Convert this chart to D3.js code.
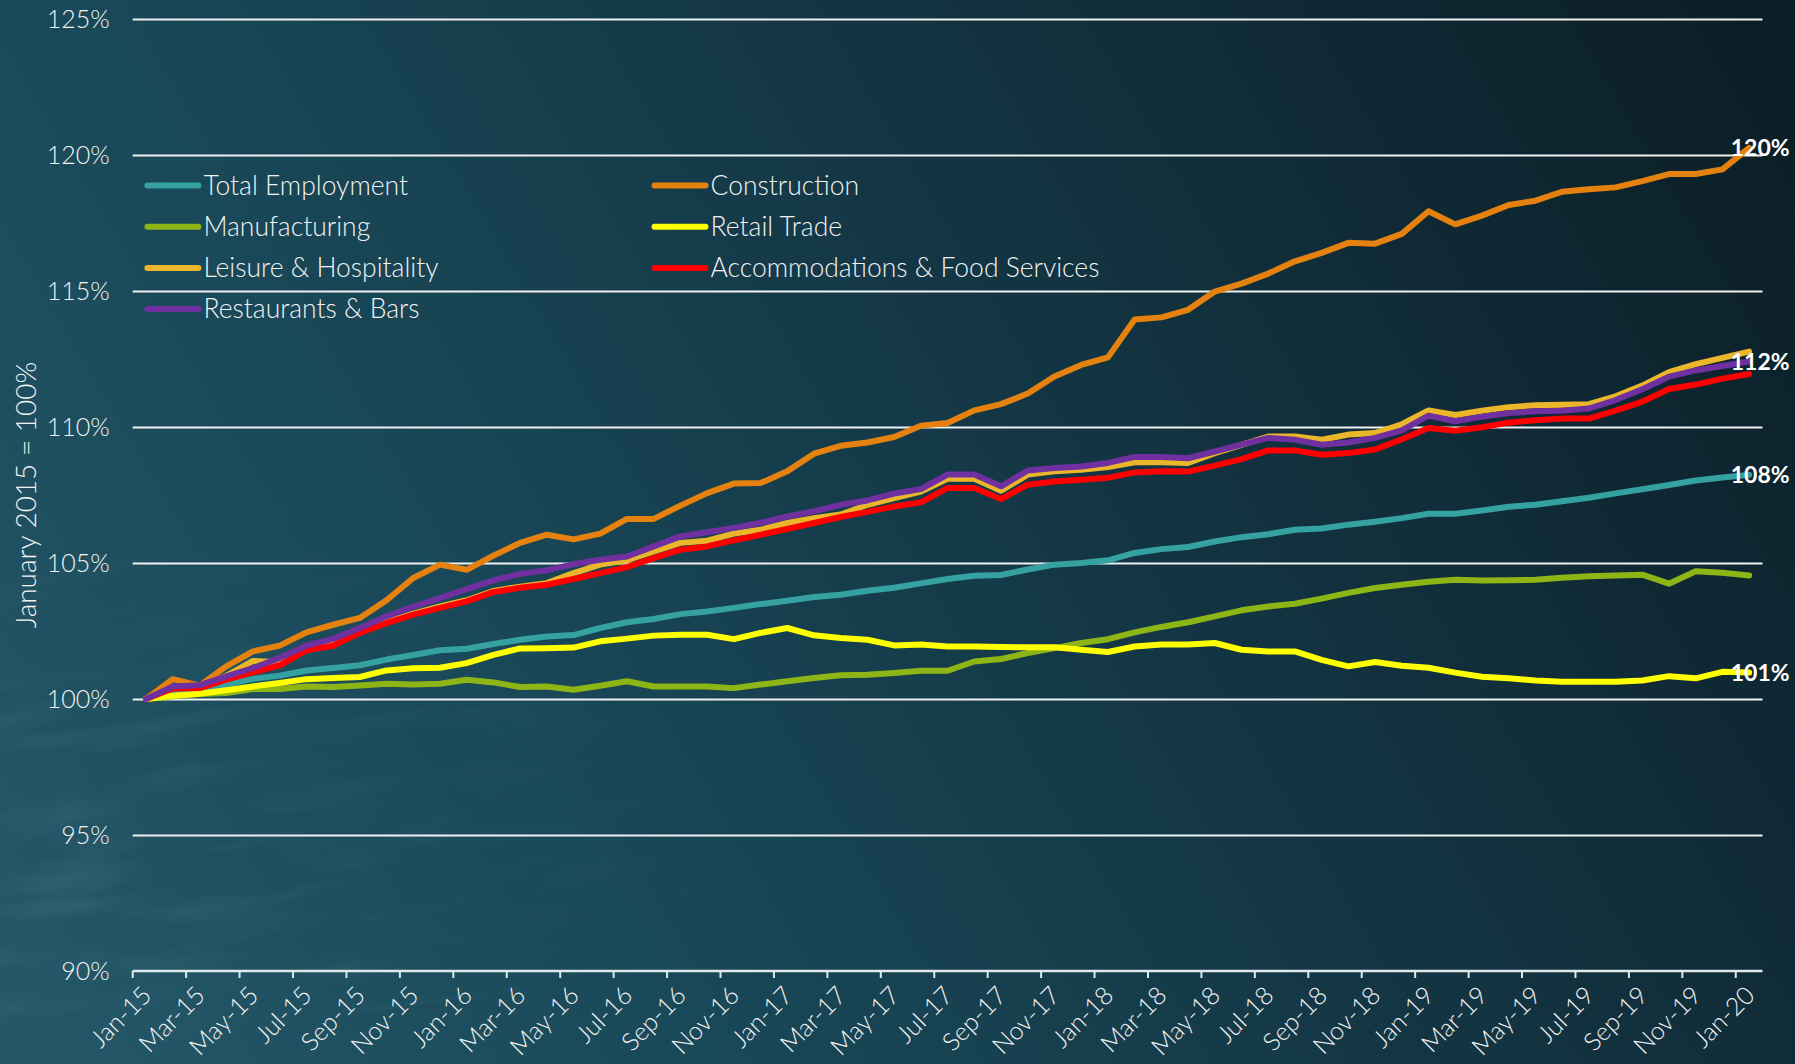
<!DOCTYPE html>
<html>
<head>
<meta charset="utf-8">
<script src="https://cdn.jsdelivr.net/npm/d3@7"></script>
<style>
  html, body { margin: 0; padding: 0; background: #12313d; overflow: hidden; }
  svg { display: block; }
  text { font-family: "Century Gothic", "URW Gothic", Lato, sans-serif; }
</style>
</head>
<body>
<script>
// monthly index, January 2015 = 100%
var months = d3.timeMonth.range(new Date(2015, 0, 1), new Date(2020, 1, 1));
var yTicks = [90, 95, 100, 105, 110, 115, 120, 125];

var totalEmployment = [100.00, 100.18, 100.34, 100.53, 100.74, 100.86, 101.05, 101.14, 101.24, 101.45, 101.62, 101.79,
  101.85, 102.02, 102.18, 102.30, 102.35, 102.61, 102.82, 102.94, 103.12, 103.22, 103.35, 103.49,
  103.61, 103.75, 103.83, 103.98, 104.09, 104.25, 104.41, 104.53, 104.56, 104.76, 104.94, 105.00,
  105.10, 105.37, 105.51, 105.59, 105.79, 105.95, 106.06, 106.22, 106.27, 106.41, 106.52, 106.65,
  106.81, 106.81, 106.93, 107.07, 107.14, 107.27, 107.40, 107.56, 107.71, 107.87, 108.03, 108.14, 108.24];
var construction = [100.00, 100.73, 100.49, 101.20, 101.75, 101.96, 102.45, 102.73, 102.98, 103.63, 104.45, 104.94,
  104.75, 105.27, 105.74, 106.04, 105.87, 106.08, 106.62, 106.62, 107.11, 107.57, 107.92, 107.94,
  108.37, 109.02, 109.31, 109.43, 109.63, 110.05, 110.15, 110.61, 110.84, 111.23, 111.86, 112.28,
  112.56, 113.95, 114.03, 114.31, 114.98, 115.27, 115.64, 116.09, 116.40, 116.77, 116.74, 117.10,
  117.93, 117.45, 117.77, 118.16, 118.32, 118.65, 118.74, 118.81, 119.04, 119.30, 119.30, 119.47, 120.26];
var manufacturing = [100.00, 100.10, 100.18, 100.22, 100.37, 100.37, 100.46, 100.44, 100.50, 100.56, 100.53, 100.56,
  100.71, 100.61, 100.44, 100.46, 100.34, 100.49, 100.65, 100.46, 100.46, 100.46, 100.40, 100.53,
  100.65, 100.77, 100.87, 100.89, 100.96, 101.04, 101.04, 101.38, 101.47, 101.69, 101.87, 102.06,
  102.20, 102.45, 102.65, 102.82, 103.04, 103.26, 103.40, 103.50, 103.69, 103.90, 104.08, 104.20,
  104.31, 104.38, 104.36, 104.37, 104.38, 104.46, 104.51, 104.54, 104.57, 104.24, 104.70, 104.64, 104.54];
var retailTrade = [100.00, 100.12, 100.19, 100.32, 100.46, 100.59, 100.73, 100.77, 100.81, 101.05, 101.13, 101.15,
  101.32, 101.62, 101.86, 101.87, 101.89, 102.12, 102.22, 102.33, 102.36, 102.36, 102.20, 102.43,
  102.61, 102.34, 102.24, 102.18, 101.97, 102.00, 101.93, 101.93, 101.91, 101.90, 101.90, 101.81,
  101.73, 101.93, 102.00, 102.00, 102.06, 101.81, 101.75, 101.75, 101.44, 101.20, 101.36, 101.22,
  101.15, 100.97, 100.82, 100.76, 100.68, 100.63, 100.63, 100.63, 100.68, 100.84, 100.76, 101.00, 100.97];
var leisure = [100.00, 100.42, 100.45, 100.85, 101.40, 101.35, 101.85, 102.00, 102.45, 102.82, 103.14, 103.40,
  103.63, 103.97, 104.13, 104.26, 104.63, 104.94, 105.10, 105.43, 105.74, 105.82, 106.08, 106.22,
  106.47, 106.65, 106.78, 107.14, 107.39, 107.63, 108.10, 108.10, 107.66, 108.25, 108.37, 108.43,
  108.53, 108.70, 108.70, 108.68, 109.04, 109.34, 109.65, 109.65, 109.53, 109.72, 109.78, 110.10,
  110.61, 110.44, 110.60, 110.73, 110.80, 110.82, 110.84, 111.13, 111.52, 112.02, 112.31, 112.54, 112.77];
var accommodations = [100.00, 100.39, 100.40, 100.71, 100.98, 101.24, 101.79, 101.96, 102.43, 102.79, 103.10, 103.35,
  103.59, 103.93, 104.09, 104.20, 104.41, 104.63, 104.85, 105.18, 105.49, 105.61, 105.83, 106.04,
  106.25, 106.47, 106.69, 106.88, 107.08, 107.23, 107.76, 107.76, 107.35, 107.88, 108.00, 108.06,
  108.13, 108.33, 108.37, 108.36, 108.58, 108.82, 109.14, 109.14, 108.98, 109.04, 109.17, 109.55,
  109.96, 109.86, 109.99, 110.16, 110.25, 110.31, 110.31, 110.60, 110.93, 111.40, 111.56, 111.78, 111.95];
var restaurants = [100.00, 100.46, 100.51, 100.83, 101.14, 101.51, 101.96, 102.21, 102.61, 103.04, 103.40, 103.71,
  104.04, 104.36, 104.60, 104.73, 104.96, 105.12, 105.24, 105.61, 105.98, 106.13, 106.29, 106.47,
  106.71, 106.90, 107.14, 107.30, 107.55, 107.72, 108.25, 108.25, 107.82, 108.40, 108.49, 108.55,
  108.68, 108.90, 108.90, 108.85, 109.10, 109.35, 109.60, 109.53, 109.35, 109.43, 109.60, 109.88,
  110.42, 110.21, 110.38, 110.51, 110.58, 110.60, 110.68, 110.99, 111.39, 111.85, 112.08, 112.24, 112.41];

var seriesNames = ["Total Employment", "Construction", "Manufacturing", "Retail Trade",
  "Leisure & Hospitality", "Accommodations & Food Services", "Restaurants & Bars"];
var seriesValues = [totalEmployment, construction, manufacturing, retailTrade, leisure, accommodations, restaurants];
var seriesColors = ["#35a2a1", "#e5820f", "#8db515", "#ffff00", "#ebb62a", "#ff0000", "#7030a0"];
// series that get a value label at the last point
var endLabels = ["Construction", "Restaurants & Bars", "Total Employment", "Retail Trade"];

var W = 1795, H = 1064;
var plotLeft = 132.7, plotRight = 1762.5, plotTop = 19, plotBottom = 971;

var svg = d3.select("body").append("svg").attr("width", W).attr("height", H);
var defs = svg.append("defs");

var bg = defs.append("linearGradient").attr("id", "bg")
  .attr("gradientUnits", "userSpaceOnUse")
  .attr("x1", 0).attr("y1", H).attr("x2", W).attr("y2", 0);
bg.append("stop").attr("offset", 0).attr("stop-color", "#245869");
bg.append("stop").attr("offset", 0.3).attr("stop-color", "#194858");
bg.append("stop").attr("offset", 0.6).attr("stop-color", "#133543");
bg.append("stop").attr("offset", 1).attr("stop-color", "#0b1d25");

var glow = defs.append("radialGradient").attr("id", "glow")
  .attr("cx", 0.05).attr("cy", 0.85).attr("r", 0.4);
glow.append("stop").attr("offset", 0).attr("stop-color", "#ffffff").attr("stop-opacity", 1);
glow.append("stop").attr("offset", 1).attr("stop-color", "#ffffff").attr("stop-opacity", 0);

var noise = defs.append("filter").attr("id", "water").attr("x", 0).attr("y", 0).attr("width", 1).attr("height", 1);
noise.append("feTurbulence").attr("type", "fractalNoise").attr("baseFrequency", "0.006 0.035")
  .attr("numOctaves", 3).attr("seed", 4);
noise.append("feColorMatrix").attr("type", "matrix")
  .attr("values", "0 0 0 0 0.45  0 0 0 0 0.65  0 0 0 0 0.72  0 0 0 1 -0.45");
var mask = defs.append("mask").attr("id", "glowMask");
mask.append("rect").attr("width", W).attr("height", H).attr("fill", "url(#glow)");

svg.append("rect").attr("width", W).attr("height", H).attr("fill", "url(#bg)");
svg.append("rect").attr("width", W).attr("height", H).attr("filter", "url(#water)")
  .attr("mask", "url(#glowMask)").attr("opacity", 0.22)
  .attr("transform", "rotate(-8 0 1064)");

var x = d3.scaleBand().domain(months).range([plotLeft, plotRight]);
var y = d3.scaleLinear().domain([90, 125]).range([plotBottom, plotTop]);
var fmt = d3.timeFormat("%b-%y");
var cx = function(i) { return x(months[i]) + x.bandwidth() / 2; };

// gridlines
svg.append("g")
  .attr("transform", "translate(" + plotLeft + ",0)")
  .call(d3.axisLeft(y).tickValues(yTicks.slice(1)).tickSize(-(plotRight - plotLeft)).tickFormat(""))
  .call(function(g) {
    g.select(".domain").remove();
    g.selectAll("line").attr("stroke", "#f0f0f0").attr("stroke-width", 2);
  });

// y labels
svg.append("g")
  .attr("transform", "translate(" + plotLeft + ",0)")
  .call(d3.axisLeft(y).tickValues(yTicks).tickSize(0).tickPadding(23).tickFormat(function(d) { return d + "%"; }))
  .call(function(g) {
    g.select(".domain").remove();
    g.selectAll("text").attr("fill", "#f2f2f2").attr("font-size", 25).attr("font-weight", 300)
      .attr("font-family", "'Century Gothic', Lato, sans-serif");
  });

// x axis: ticks at category boundaries, labels centred on the category
var labelMonths = months.filter(function(d, i) { return i % 2 === 0; });
var xAxis = svg.append("g").attr("transform", "translate(0," + plotBottom + ")");
xAxis.append("line").attr("x1", plotLeft).attr("x2", plotRight).attr("stroke", "#dfe9ec").attr("stroke-width", 2.5);
xAxis.selectAll(".tk").data(labelMonths).enter().append("line")
  .attr("x1", function(d) { return x(d); }).attr("x2", function(d) { return x(d); })
  .attr("y1", 0).attr("y2", 7).attr("stroke", "#dfe9ec").attr("stroke-width", 2);
xAxis.selectAll(".lb").data(labelMonths).enter().append("text")
  .attr("transform", function(d) { return "translate(" + (x(d) + x.bandwidth() / 2 + 7) + ",26) rotate(-45)"; })
  .attr("text-anchor", "end")
  .attr("font-size", 25).attr("font-weight", 300)
  .attr("fill", "#f2f2f2")
  .text(function(d) { return fmt(d); });

// y axis title
svg.append("text")
  .attr("transform", "translate(36,495) rotate(-90)")
  .attr("text-anchor", "middle")
  .attr("font-size", 28).attr("font-weight", 300)
  .attr("fill", "#f2f2f2")
  .text("January 2015 = 100%");

// series lines
var line = d3.line()
  .x(function(d, i) { return cx(i); })
  .y(function(d) { return y(d); });

svg.append("g").selectAll("path").data(seriesValues).enter().append("path")
  .attr("d", line)
  .attr("fill", "none")
  .attr("stroke", function(d, i) { return seriesColors[i]; })
  .attr("stroke-width", 6)
  .attr("stroke-linejoin", "round")
  .attr("stroke-linecap", "round");

// legend, two columns
var legend = svg.append("g").selectAll("g").data(seriesNames).enter().append("g")
  .attr("transform", function(d, i) {
    return "translate(" + (i % 2 ? 652.5 : 145.4) + "," + (185.5 + Math.floor(i / 2) * 41.2) + ")";
  });
legend.append("line").attr("x1", 2).attr("x2", 53)
  .attr("stroke", function(d, i) { return seriesColors[i]; })
  .attr("stroke-width", 6).attr("stroke-linecap", "round");
legend.append("text").attr("x", 58).attr("dy", "0.35em")
  .attr("font-size", 26.5).attr("font-weight", 300).attr("fill", "#f2f2f2")
  .text(function(d) { return d; });

// end value labels
var last = months.length - 1;
svg.append("g").selectAll("text").data(endLabels).enter().append("text")
  .attr("x", cx(last) + 11)
  .attr("y", function(d) { return y(seriesValues[seriesNames.indexOf(d)][last]); })
  .attr("dy", "0.36em")
  .attr("text-anchor", "middle")
  .attr("font-family", "'Open Sans', sans-serif")
  .attr("font-weight", 700).attr("font-size", 23).attr("fill", "#ffffff")
  .text(function(d) { return Math.round(seriesValues[seriesNames.indexOf(d)][last]) + "%"; });
</script>
</body>
</html>
